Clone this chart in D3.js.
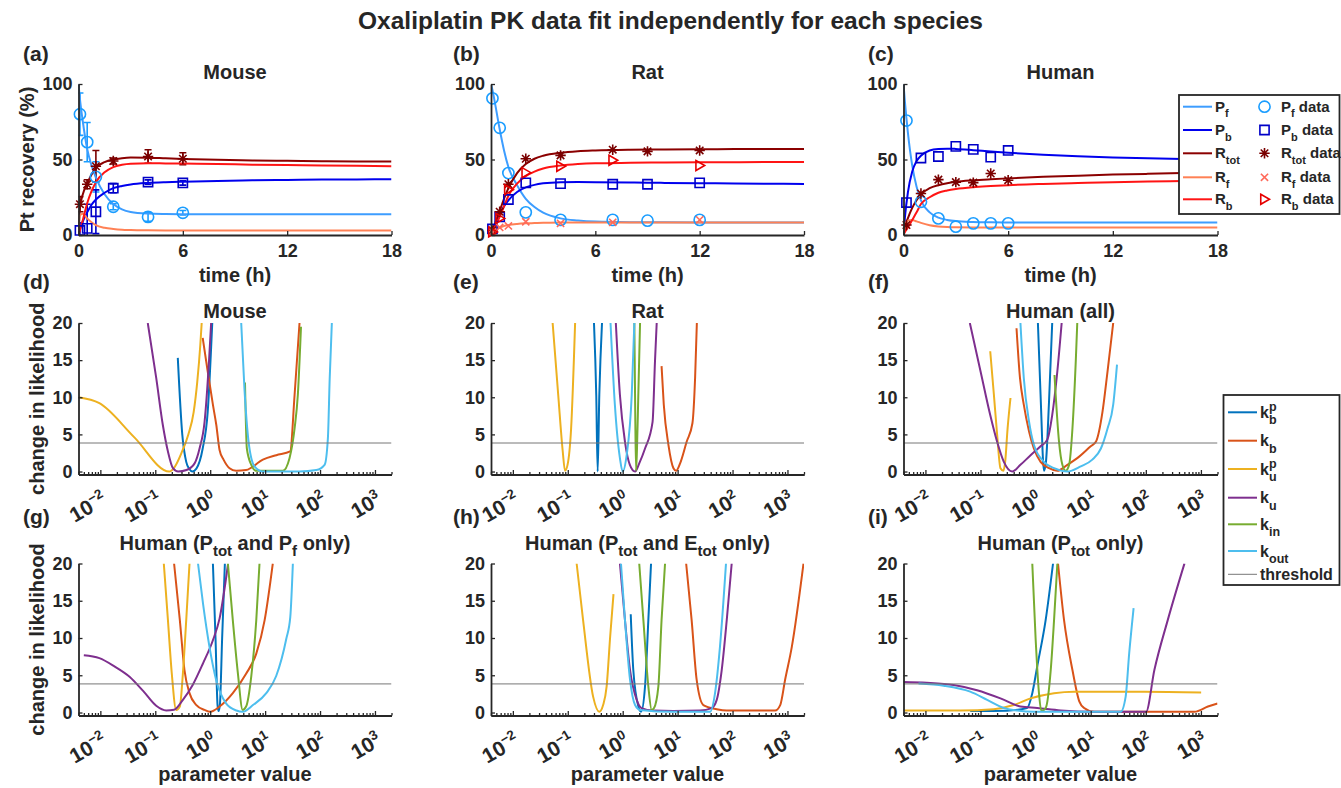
<!DOCTYPE html>
<html><head><meta charset="utf-8">
<script src="https://cdn.jsdelivr.net/npm/d3@7"></script>
<style>
body{margin:0;background:#fff}
svg{display:block}
text{font-family:"Liberation Sans",Arial,Helvetica,sans-serif;font-weight:bold;fill:#262626;white-space:pre}
</style>
</head><body>
<svg id="c" width="1341" height="788"></svg>
<script>
// ---------------- DATA ----------------
const timeGrid=[0,0.083,0.25,0.5,0.75,1,1.5,2,2.5,3,4,5,6,8,10,12,14,16,18];
const timeTicks=[0,6,12,18];
const pctTicks=[0,50,100];
const likTicks=[0,5,10,15,20];
const logMajors=[0.01,0.1,1,10,100,1000];
const logLabels=["−2","−1","0","1","2","3"];

// (a) Mouse model fits
const mousePf  =[100,90,75,57,46,38,27,20.5,17,15.3,14.2,13.9,13.8,13.7,13.7,13.7,13.7,13.7,13.7];
const mousePb  =[0,4,9,15,20,23.5,28,31,32.5,33.5,34.5,35,35.3,35.8,36.2,36.5,36.7,36.8,36.9];
const mouseRtot=[0,18,27,34,40,44.5,48.2,50,50.9,51.3,51.2,50.8,50.4,49.8,49.4,49.1,48.9,48.7,48.6];
const mouseRf  =[0,13,14,11,8.5,6.5,4.8,4,3.5,3.3,3.1,3,3,3,3,3,3,3,3];
const mouseRb  =[0,3,10,21,29,35,41.5,45,46.5,47.2,47.5,47.4,47.3,47,46.6,46.3,46,45.8,45.6];
// (a) Mouse data
const mouseT=[0.083,0.5,1,2,4,6];
const mousePfData=[80,61.5,38.5,18.7,12,14.7],   mousePfErr=[14,13,10,2,3,1.5];
const mousePbData=[3,4.4,15.4,31,35,34.5],        mousePbErr=[5,16,14.5,3,1.5,1.5];
const mouseRtotData=[20.4,33.6,45.5,49,52,50.5],  mouseRtotErr=[5,3,10.5,2,4.5,4];

// (b) Rat model fits
const ratPf  =[100,96,86,70,56,45,33,24,18.5,14.8,11,9.6,8.9,8.5,8.4,8.3,8.3,8.3,8.3];
const ratPb  =[0,3,8,14,19,23,28.5,31.5,33.2,34.2,35,35.1,35,34.8,34.5,34.3,34.1,34,33.8];
const ratRtot=[0,3,8,16,24,31,41,47,50.5,52.5,54.5,55.5,56,56.5,56.7,56.8,56.9,57,57];
const ratRf  =[0,1.5,3.5,5,6,6.6,7.3,7.7,7.9,8.1,8.2,8.3,8.3,8.3,8.3,8.3,8.3,8.3,8.3];
const ratRb  =[0,2,6,12,19,26,34,39,42,44,46,47,47.5,47.8,48,48.1,48.2,48.3,48.3];
// (b) Rat data
const ratT=[0.083,0.5,1,2,4,7,9,12];
const ratPfData=[90.5,71,41,15,10,10,9.5,10];
const ratPbData=[4,12,23.5,34.5,34,33.6,33.6,34.5];
const ratRtotData=[3,15.4,33.6,50.5,52.7,56.5,55.4,56];
const ratRT=[0.083,0.5,1,2,4,7,12];
const ratRbData=[2,11,30,41.3,45.5,49.5,46];
const ratRfData=[2,5,6,8.8,7.7,8.4,10];

// (c) Human model fits
const humanPf  =[100,88,68,46,32,23,15,11.5,10,9.2,8.6,8.4,8.3,8.2,8.2,8.2,8.2,8.2,8.2];
const humanPb  =[0,12,28,42,49,52.5,56,57,57.2,57,56.2,55.3,54.5,53.2,52.2,51.4,50.8,50.3,50];
const humanRtot=[0,5,11,18,23,27,31,33,34.3,35.2,36.2,36.9,37.5,38.5,39.3,40,40.5,41,41.3];
const humanRf  =[0,6,9.5,10,9,8,6.5,5.7,5.3,5.1,5,5,5,5,5,5,5,5,5];
const humanRb  =[0,2,5,10,15,20.5,25,28,29.5,30.5,31.7,32.4,33,33.8,34.4,35,35.4,35.7,35.9];
// (c) Human data
const humanT=[0.17,1,2,3,4,5,6];
const humanPfData=[75.8,22,11,5.5,7.7,7.7,7.7];
const humanPbData=[21.5,51,52,58.7,56.7,51.6,56];
const humanRtotData=[6.6,27.5,36.7,35,34.7,40.7,36.3];

// Profile likelihoods: [parameter value, change in likelihood]
const profMouse={
 kbp:[[0.257,15.3],[0.31,5],[0.366,1.3],[0.42,0.3],[0.47,0],[0.56,0.4],[0.73,3.1],[0.9,8],[1.09,20]],
 kb:[[0.73,18],[0.9,13.5],[1.12,9],[1.29,6.3],[1.48,2.9],[1.75,1.6],[2.25,0.45],[2.97,0.1],[4.5,0.2],[9.1,1.6],[16,2.2],[28.6,2.7],[34.4,10.3],[42.3,20]],
 kup:[[0.004,10],[0.0096,9.2],[0.0416,4.6],[0.18,0],[0.22,0.5],[0.3,2.5],[0.4,5],[0.5,8],[0.58,12],[0.66,17],[0.7,20]],
 ku:[[0.073,20],[0.104,12.6],[0.137,6.3],[0.17,2.7],[0.21,0.45],[0.26,0],[0.37,0.2],[0.52,1.1],[0.64,3.1],[0.79,6.7],[0.95,14.8],[1.04,20]],
 kin:[[4.3,12],[4.65,3.1],[5.6,0.9],[6.9,0.1],[21,0.1],[27.8,1.8],[34.4,5.8],[39.4,10.3],[45,19.5]],
 kout:[[3.67,20],[4.2,11.2],[5,4],[6.4,0.7],[9.1,0],[42,0],[85.6,0.2],[121,0.9],[139,4.5],[150,12.6],[164,20]]
};
const profRat={
 kbp:[[0.30,20],[0.33,10.3],[0.35,0],[0.375,10.3],[0.42,20]],
 kb:[[5.1,14.2],[5.6,9],[6.8,3.6],[8.4,0.45],[9.4,0.1],[11.1,1.1],[14.6,4],[18.6,6.5],[20.8,12.6],[22.4,20]],
 kup:[[0.053,20],[0.067,10.3],[0.081,2.7],[0.089,0.1],[0.099,0.9],[0.115,5.8],[0.136,20]],
 ku:[[0.75,20],[0.89,10.3],[1.1,4],[1.35,0.9],[1.68,0],[2.0,1.1],[2.55,3.1],[3.5,6.7],[3.87,14.8],[4.16,20]],
 kin:[[1.63,20],[1.69,8],[1.75,0.1],[1.82,3],[1.92,10],[2.07,20]],
 kout:[[0.60,20],[0.72,9],[0.89,1.8],[1,0],[1.18,2.2],[1.46,10.3],[1.63,20]]
};
const profHumanAll={
 kbp:[[1.1,20],[1.23,10.3],[1.42,0.1],[1.54,1.3],[1.75,9.4],[2.0,20]],
 kb:[[0.45,19.3],[0.52,12.6],[0.61,9],[0.76,5.4],[0.93,3.1],[1.23,1.3],[1.75,0.45],[2.48,0.1],[3.77,0.9],[5.7,1.8],[10,3.4],[12.4,4],[16.4,8.1],[20.2,13.5],[25.6,20]],
 kup:[[0.15,16.2],[0.175,10.3],[0.2,5],[0.23,0.45],[0.26,0.1],[0.28,1.3],[0.31,5.8],[0.35,9.9]],
 ku:[[0.064,20],[0.1,13.5],[0.15,7.6],[0.2,4],[0.265,1.3],[0.375,0],[0.53,0.9],[0.81,2.2],[1.23,3.4],[1.63,4.3],[2.0,7.6],[2.48,13.5],[2.97,20]],
 kin:[[2.2,13],[2.66,4],[3.06,0.9],[3.5,0.1],[4.05,0.9],[4.66,5.8],[5.35,14.8],[5.7,20]],
 kout:[[0.53,20],[0.61,12.6],[0.76,6.7],[0.93,3.6],[1.42,1.3],[2.16,0.45],[3.77,0],[6.6,0.7],[10.7,1.6],[15.3,3.1],[20.2,5.8],[25.6,9],[30,14.4]]
};
const profHumanPf={
 kbp:[[1.12,20],[1.25,10],[1.36,1],[1.42,0.2],[1.5,1],[1.65,10],[1.85,20]],
 kb:[[0.22,20],[0.28,12.4],[0.34,5.7],[0.42,2.6],[0.56,1],[0.79,0.35],[1,0.1],[1.48,0.8],[2.58,2.6],[4.5,5.2],[6.9,7.9],[9.8,12.4],[13.8,20]],
 kup:[[0.143,20],[0.17,12.4],[0.2,5.2],[0.24,0.35],[0.28,0.8],[0.318,5.2],[0.366,12.4],[0.42,20]],
 ku:[[0.005,7.7],[0.0096,7.3],[0.018,6.2],[0.034,4.8],[0.06,2.9],[0.104,0.9],[0.158,0.27],[0.22,0.36],[0.318,1.7],[0.48,3.7],[0.74,6.6],[1.12,9.7],[1.48,12.6],[2.1,19.8]],
 kin:[[2.1,20],[2.58,12.4],[3.2,5.2],[3.9,0.35],[4.5,0.8],[5.6,4.9],[6.9,12.4],[7.9,20]],
 kout:[[0.6,20],[0.74,14.6],[0.97,8.8],[1.28,4.4],[1.96,1.2],[3,0.27],[3.9,0.1],[6,1],[10.5,2.6],[15.9,4.9],[24.3,9.9],[28.7,12.8],[32,20]]
};
const profHumanEtot={
 kbp:[[1.4,13.2],[1.56,5.7],[1.93,0.8],[2.16,0.1],[2.55,3.5],[2.93,12.4],[3.28,20]],
 kb:[[14.3,20],[18,12.4],[22.2,4.4],[29.4,1],[51.5,0.45],[78,0.27],[595,0.27],[738,1],[906,4.4],[1200,8.8],[1960,20]],
 kup:[[0.145,20],[0.19,12.4],[0.29,2.1],[0.375,0.1],[0.44,1],[0.51,3.5],[0.59,10.1],[0.68,15.9]],
 ku:[[0.89,20],[1.1,12.4],[1.36,5.7],[1.8,1.7],[2.2,0.6],[3.6,0.27],[8.4,0.22],[25.6,0.27],[41.6,0.6],[51.5,1.7],[63.5,5.7],[78.4,12.4],[96.5,20]],
 kin:[[2.0,20],[2.38,12.4],[2.93,3.5],[3.37,0.35],[3.72,0.6],[4.46,3.5],[5.1,12.4],[5.9,20]],
 kout:[[0.93,20],[1.1,12.4],[1.36,4.4],[1.68,1],[2.07,0.35],[8.4,0.1],[39,0.1],[48,2.6],[59,8.8],[76,20]]
};
const profHumanPtot={
 kbp:[[0.065,0.2],[0.3,0.25],[0.7,0.6],[0.87,2.6],[1.07,6.2],[1.52,12.4],[2.07,20]],
 kb:[[2.55,20],[3.28,12.4],[4.66,5.7],[6.2,1.5],[7.6,0.6],[11.5,0.1],[766,0.1],[1340,0.8],[2000,1.2]],
 kup:[[0.004,0.27],[0.043,0.27],[0.174,0.45],[0.4,1],[0.81,1.9],[2.16,2.6],[5,2.8],[11.5,2.8],[94,2.8],[1010,2.7]],
 ku:[[0.004,4.1],[0.0106,4],[0.0325,3.7],[0.0865,3],[0.23,1.9],[0.53,0.8],[1.07,0.6],[2.85,0.27],[11.5,0.1],[101,0.1],[143,5.7],[250,12.4],[503,20]],
 kin:[[0.87,20],[1,9.9],[1.15,2.6],[1.27,0.2],[1.52,0.6],[1.88,5.7],[2.16,12.4],[2.48,20]],
 kout:[[0.0075,3.9],[0.0214,3.6],[0.065,2.8],[0.132,1.7],[0.265,0.6],[0.46,0.27],[0.93,0.1],[35,0.1],[43,2.1],[50,8],[60,14]]
};
const threshold=3.84;
const paramKeys=["kbp","kb","kup","ku","kin","kout"];

// ---------------- STYLE ----------------
const AX="#262626";
const col={Pf:"#3d9dff",Pb:"#0000ee",Rtot:"#8b0000",Rf:"#ff8155",Rb:"#ff1414"};
const mcol={Pf:"#1a9dff",Pb:"#0000c8",Rtot:"#7a0000",Rf:"#ff6a5a",Rb:"#e60000"};
const pcol={kbp:"#0072BD",kb:"#D95319",kup:"#EDB120",ku:"#7E2F8E",kin:"#77AC30",kout:"#4DBEEE"};
const colsX=[[78.5,391.5],[491,804],[903.5,1217.5]];
const svg=d3.select("#c");

function rich(sel,parts,base,sub,subDy,supDy){
  let cur=0;
  parts.forEach(p=>{
    const [t,k]=Array.isArray(p)?p:[p,"n"];
    const tgt=k==="sub"?subDy:(k==="sup"?supDy:0);
    sel.append("tspan").attr("dy",tgt-cur).attr("font-size",k==="n"?base:sub).text(t);
    cur=tgt;
  });
  return sel;
}
function styleAxis(g){
  g.attr("font-family",null).attr("font-size",18);
  g.select(".domain").attr("stroke",AX).attr("stroke-width",1.8);
  g.selectAll(".tick line").attr("stroke",AX).attr("stroke-width",1.3);
  g.selectAll(".tick text").attr("fill",AX);
}
let clipId=0;
function clip(x0,y0,x1,y1){
  const id="cl"+(clipId++);
  svg.append("clipPath").attr("id",id).append("rect").attr("x",x0).attr("y",y0).attr("width",x1-x0).attr("height",y1-y0);
  return "url(#"+id+")";
}

// ---------------- MAIN TITLE ----------------
svg.append("text").attr("x",670.5).attr("y",28.5).attr("text-anchor","middle").attr("font-size",24.5)
  .text("Oxaliplatin PK data fit independently for each species");

// panel letters
const letters=[["(a)",23,60.5],["(b)",453,60.5],["(c)",868,60.5],["(d)",23,289],["(e)",453,289],["(f)",868,289],["(g)",23,524],["(h)",453,524],["(i)",868,524]];
letters.forEach(l=>svg.append("text").attr("x",l[1]).attr("y",l[2]).attr("font-size",21).text(l[0]));

// ---------------- TIME PANELS ----------------
function markerPath(kind,h){
  if(kind==="star"){const d=h*0.72;return `M0,${-h}L0,${h}M${-h},0L${h},0M${-d},${-d}L${d},${d}M${-d},${d}L${d},${-d}`;}
  if(kind==="tri") return `M${-h*0.75},${-h}L${h},0L${-h*0.75},${h}Z`;
  if(kind==="cross") return `M${-h},${-h}L${h},${h}M${-h},${h}L${h},${-h}`;
  if(kind==="square") return `M${-h},${-h}H${h}V${h}H${-h}Z`;
  return d3.symbol(d3.symbolCircle,Math.PI*h*h)();
}
const mSize={circle:5.6,square:4.6,star:5.2,tri:5,cross:3.6};
function drawMarkers(g,x,y,ts,vs,kind,color){
  g.selectAll(null).data(ts.map((t,i)=>[t,vs[i]])).enter().append("path")
   .attr("transform",d=>`translate(${x(d[0])},${y(d[1])})`)
   .attr("d",markerPath(kind,mSize[kind])).attr("fill","none").attr("stroke",color).attr("stroke-width",1.6);
}
function timePanel(ci,title,fits,data,errs){
  const [x0,x1]=colsX[ci];
  const x=d3.scaleLinear().domain([0,18]).range([x0,x1]);
  const y=d3.scaleLinear().domain([0,100]).range([235,84]);
  const g=svg.append("g");
  const cp=clip(x0,84,x1,235);
  const line=d3.line().x((d,i)=>x(timeGrid[i])).y(d=>y(d)).curve(d3.curveMonotoneX);
  if(errs){
    const eg=g.append("g").attr("clip-path",cp);
    errs.forEach(e=>{
      e.t.forEach((t,i)=>{
        const xc=x(t),lo=y(e.v[i]-e.e[i]),hi=y(e.v[i]+e.e[i]);
        eg.append("path").attr("d",`M${xc},${lo}V${hi}M${xc-3.5},${lo}H${xc+3.5}M${xc-3.5},${hi}H${xc+3.5}`)
          .attr("stroke",e.c).attr("stroke-width",1.6).attr("fill","none");
      });
    });
  }
  const lg=g.append("g").attr("clip-path",cp);
  ["Pf","Pb","Rtot","Rf","Rb"].forEach(k=>{
    lg.append("path").attr("d",line(fits[k])).attr("fill","none").attr("stroke",col[k]).attr("stroke-width",2);
  });
  data.forEach(dd=>drawMarkers(g,x,y,dd.t,dd.v,dd.m,dd.c));
  const ax=g.append("g").attr("transform","translate(0,235)")
    .call(d3.axisBottom(x).tickValues(timeTicks).tickSizeInner(-4).tickSizeOuter(0).tickPadding(9));
  styleAxis(ax);
  const ay=g.append("g").attr("transform",`translate(${x0},0)`)
    .call(d3.axisLeft(y).tickValues(pctTicks).tickSizeInner(-4).tickSizeOuter(0).tickPadding(6));
  styleAxis(ay);
  svg.append("text").attr("x",(x0+x1)/2).attr("y",78.5).attr("text-anchor","middle").attr("font-size",20).text(title);
  svg.append("text").attr("x",(x0+x1)/2).attr("y",282).attr("text-anchor","middle").attr("font-size",20).text("time (h)");
}
timePanel(0,"Mouse",{Pf:mousePf,Pb:mousePb,Rtot:mouseRtot,Rf:mouseRf,Rb:mouseRb},
  [{t:mouseT,v:mousePfData,m:"circle",c:mcol.Pf},{t:mouseT,v:mousePbData,m:"square",c:mcol.Pb},{t:mouseT,v:mouseRtotData,m:"star",c:mcol.Rtot}],
  [{t:mouseT,v:mousePfData,e:mousePfErr,c:mcol.Pf},{t:mouseT,v:mousePbData,e:mousePbErr,c:mcol.Pb},{t:mouseT,v:mouseRtotData,e:mouseRtotErr,c:mcol.Rtot}]);
timePanel(1,"Rat",{Pf:ratPf,Pb:ratPb,Rtot:ratRtot,Rf:ratRf,Rb:ratRb},
  [{t:ratT,v:ratPfData,m:"circle",c:mcol.Pf},{t:ratT,v:ratPbData,m:"square",c:mcol.Pb},{t:ratT,v:ratRtotData,m:"star",c:mcol.Rtot},
   {t:ratRT,v:ratRfData,m:"cross",c:mcol.Rf},{t:ratRT,v:ratRbData,m:"tri",c:mcol.Rb}],null);
timePanel(2,"Human",{Pf:humanPf,Pb:humanPb,Rtot:humanRtot,Rf:humanRf,Rb:humanRb},
  [{t:humanT,v:humanPfData,m:"circle",c:mcol.Pf},{t:humanT,v:humanPbData,m:"square",c:mcol.Pb},{t:humanT,v:humanRtotData,m:"star",c:mcol.Rtot}],null);

svg.append("text").attr("transform","translate(34,159.5) rotate(-90)").attr("text-anchor","middle").attr("font-size",20).text("Pt recovery (%)");

// top legend
(function(){
  const lg=svg.append("g");
  lg.append("rect").attr("x",1179).attr("y",95).attr("width",160.5).attr("height",119).attr("fill","#fff").attr("stroke",AX).attr("stroke-width",1.8);
  const rows=[{k:"Pf",n:["P","f"],m:"circle"},{k:"Pb",n:["P","b"],m:"square"},{k:"Rtot",n:["R","tot"],m:"star"},{k:"Rf",n:["R","f"],m:"cross"},{k:"Rb",n:["R","b"],m:"tri"}];
  const ys=[106.7,130,153.3,177.3,199.3];
  rows.forEach((r,i)=>{
    const yy=ys[i];
    lg.append("line").attr("x1",1183).attr("x2",1212).attr("y1",yy).attr("y2",yy).attr("stroke",col[r.k]).attr("stroke-width",2);
    rich(lg.append("text").attr("x",1215).attr("y",yy+5),[r.n[0],[r.n[1],"sub"]],15,11,5.5,0);
    lg.append("path").attr("transform",`translate(1264.5,${yy})`).attr("d",markerPath(r.m,mSize[r.m])).attr("fill","none").attr("stroke",mcol[r.k]).attr("stroke-width",1.6);
    rich(lg.append("text").attr("x",1281).attr("y",yy+5),[r.n[0],[r.n[1],"sub"]," data"],15,11,5.5,0);
  });
})();

// ---------------- PROFILE PANELS ----------------
const rowsY=[{top:323,bot:474.5},{top:563.5,bot:715.5}];
function profPanel(ci,ri,titleParts,prof,ylab,xlab){
  const [x0,x1]=colsX[ci];
  const {top,bot}=rowsY[ri];
  const x=d3.scaleLog().domain([0.004,2000]).range([x0,x1]);
  const y=d3.scaleLinear().domain([-0.4,20]).range([bot,top]);
  const g=svg.append("g");
  const cp=clip(x0,top,x1,bot);
  const pg=g.append("g").attr("clip-path",cp);
  const line=d3.line().x(d=>x(d[0])).y(d=>y(d[1])).curve(d3.curveMonotoneX);
  paramKeys.forEach(k=>{
    pg.append("path").attr("d",line(prof[k])).attr("fill","none").attr("stroke",pcol[k]).attr("stroke-width",2);
  });
  pg.append("path").attr("d",line([[0.004,threshold],[2000,threshold]])).attr("stroke","#777").attr("stroke-width",1).attr("fill","none");
  const minors=[];
  for(let e=-3;e<=3;e++) for(let m=2;m<=9;m++){const v=m*Math.pow(10,e); if(v>=0.004&&v<=2000) minors.push(v);}
  const axm=g.append("g").attr("transform",`translate(0,${bot})`)
    .call(d3.axisBottom(x).tickValues(minors).tickFormat("").tickSizeInner(-2.5).tickSizeOuter(0));
  styleAxis(axm);
  const ax=g.append("g").attr("transform",`translate(0,${bot})`)
    .call(d3.axisBottom(x).tickValues(logMajors).tickFormat("").tickSizeInner(-4.5).tickSizeOuter(0));
  styleAxis(ax);
  logMajors.forEach((v,i)=>{
    const t=g.append("text").attr("transform",`translate(${x(v)+8},${bot+29}) rotate(-30)`).attr("text-anchor","end");
    rich(t,["10",[logLabels[i],"sup"]],21,13.5,0,-8.5);
  });
  const ay=g.append("g").attr("transform",`translate(${x0},0)`)
    .call(d3.axisLeft(y).tickValues(likTicks).tickSizeInner(-4).tickSizeOuter(0).tickPadding(6));
  styleAxis(ay);
  const tt=svg.append("text").attr("x",(x0+x1)/2).attr("y",ri===0?318:549.5).attr("text-anchor","middle");
  rich(tt,titleParts,20,15,6,0);
  if(ylab) svg.append("text").attr("transform",`translate(44,${(top+bot)/2}) rotate(-90)`).attr("text-anchor","middle").attr("font-size",20).text("change in likelihood");
  if(xlab) svg.append("text").attr("x",(x0+x1)/2).attr("y",781).attr("text-anchor","middle").attr("font-size",20).text("parameter value");
}
profPanel(0,0,["Mouse"],profMouse,true,false);
profPanel(1,0,["Rat"],profRat,false,false);
profPanel(2,0,["Human (all)"],profHumanAll,false,false);
profPanel(0,1,["Human (P",["tot","sub"]," and P",["f","sub"]," only)"],profHumanPf,true,true);
profPanel(1,1,["Human (P",["tot","sub"]," and E",["tot","sub"]," only)"],profHumanEtot,false,true);
profPanel(2,1,["Human (P",["tot","sub"]," only)"],profHumanPtot,false,true);

// profile legend
(function(){
  const lg=svg.append("g");
  lg.append("rect").attr("x",1223.5).attr("y",395).attr("width",116).attr("height",190).attr("fill","#fff").attr("stroke",AX).attr("stroke-width",1.8);
  const rows=[{k:"kbp",sub:"b",sup:"p"},{k:"kb",sub:"b"},{k:"kup",sub:"u",sup:"p"},{k:"ku",sub:"u"},{k:"kin",sub:"in"},{k:"kout",sub:"out"}];
  const ys=[412.3,440.7,469,497.7,524.3,551];
  rows.forEach((r,i)=>{
    const yy=ys[i];
    lg.append("line").attr("x1",1228).attr("x2",1257).attr("y1",yy).attr("y2",yy).attr("stroke",pcol[r.k]).attr("stroke-width",2);
    lg.append("text").attr("x",1260).attr("y",yy+5.5).attr("font-size",16).text("k");
    if(r.sup) lg.append("text").attr("x",1269).attr("y",yy-1).attr("font-size",12.5).text(r.sup);
    lg.append("text").attr("x",1269).attr("y",yy+12).attr("font-size",12.5).text(r.sub);
  });
  lg.append("line").attr("x1",1228).attr("x2",1257).attr("y1",574.3).attr("y2",574.3).attr("stroke","#777").attr("stroke-width",1);
  lg.append("text").attr("x",1260).attr("y",580).attr("font-size",16).text("threshold");
})();
</script>
</body></html>
